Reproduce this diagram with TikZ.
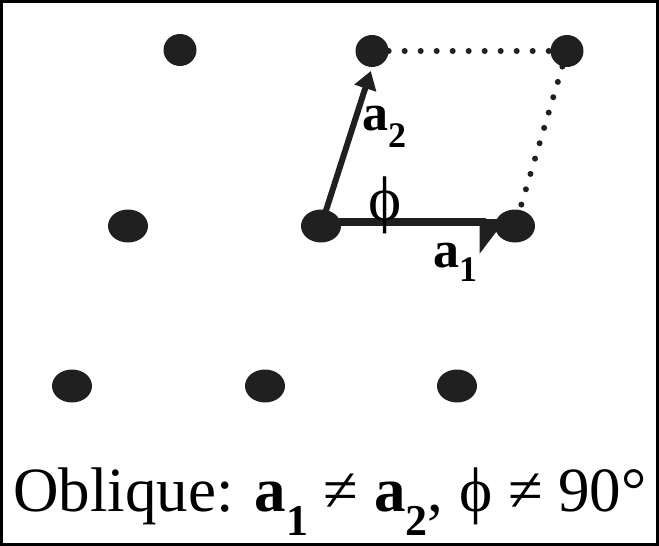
\documentclass[tikz,border=0pt]{standalone}
\usepackage{fontspec}
\setmainfont{Liberation Serif}
\usetikzlibrary{arrows.meta,shapes.geometric,backgrounds}
\definecolor{dotc}{HTML}{202020}
\newcommand\lowsub[3]{\raisebox{-#2}{\fontsize{#1}{#1}\selectfont\bfseries #3}}
\begin{document}
\begin{tikzpicture}[x=1pt,y=-1pt,
  latt/.style={ellipse,fill=dotc,inner sep=0pt,minimum width=40pt,minimum height=33pt},
  lattsm/.style={latt,minimum width=33pt,minimum height=32pt},
  vec/.style={line width=6pt,dotc},
  dotline/.style={line width=6pt,dotc,line cap=round,dash pattern=on 0pt off 16pt},
  lbl/.style={inner sep=0pt,font=\fontsize{52}{52}\selectfont\bfseries}]
\useasboundingbox (0,0) rectangle (659,546);
\draw[line width=2.5pt] (1.25,1.25) rectangle (657.5,544.5);
% lattice points
\node[lattsm] (d11) at (180,50) {};
\node[lattsm] (d12) at (372,51) {};
\node[lattsm] (d13) at (567,51) {};
\node[latt] (d21) at (128,226) {};
\node[latt] (d22) at (321,226) {};
\node[latt] (d23) at (515,226) {};
\node[latt] (d31) at (72,386) {};
\node[latt] (d32) at (265,386) {};
\node[latt] (d33) at (457,386) {};
% unit cell
\begin{scope}[on background layer]
\draw[dotline] (d12) -- (d13);
\draw[dotline] (d13) -- (d23);
\draw[vec,line width=8.5pt,-{Triangle[right,length=24pt,width=62pt]},shorten >=9pt]
  ([yshift=4pt]d22.center) -- ([yshift=4pt]d23.center);
\draw[vec,-{Triangle[length=18pt,width=22pt]},shorten >=4pt] (d22.center) -- (d12.south);
\end{scope}
% labels
\node[lbl,anchor=base west] (la1) at (433,267) {a\lowsub{36pt}{14pt}{1}};
\node[lbl,anchor=base west] (la2) at (362,130) {a\lowsub{36pt}{17pt}{2}};
\node[inner sep=0pt,anchor=base,font=\fontsize{63}{63}\selectfont] (phi) at (385,220) {ϕ};
% caption
\node[inner sep=0pt,anchor=base west,font=\fontsize{63}{63}\selectfont] (cap) at (13,511)
  {Oblique: \textbf{a}\lowsub{44pt}{24pt}{1} ≠ \textbf{a}\lowsub{44pt}{24pt}{2}, ϕ ≠ 90°};
\end{tikzpicture}
\end{document}
